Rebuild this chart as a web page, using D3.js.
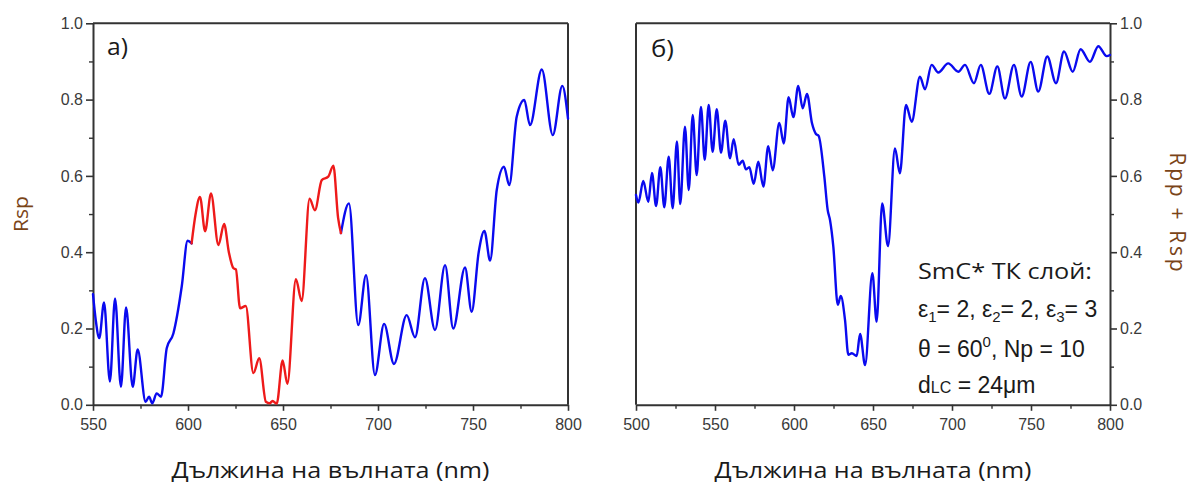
<!DOCTYPE html>
<html>
<head>
<meta charset="utf-8">
<script src="https://cdn.jsdelivr.net/npm/d3@7/dist/d3.min.js"></script>
<style>
  html, body { margin: 0; padding: 0; background: #fff; }
  svg { display: block; }
</style>
</head>
<body>
<svg id="chart" width="1192" height="487"></svg>
<script>
// ---- Panel a): Rsp spectrum, 550–800 nm (blue / red / blue segments) ----
const aBlue1Wl = [550, 551.5, 553.3, 555.8, 558.9, 561.6, 564.7, 567.4, 570.9, 573.5, 577.7, 579.5, 581.2, 583.5, 585.8, 588.8, 592.3, 596.7, 599.8, 601.9];
const aBlue1R  = [0.29, 0.22, 0.175, 0.268, 0.061, 0.279, 0.047, 0.255, 0.047, 0.145, 0.008, 0.021, 0.004, 0.030, 0.021, 0.148, 0.187, 0.31, 0.43, 0.423];

const aRedWl = [601.9, 604, 606.3, 609, 612.1, 616, 619, 621.5, 623.9, 625.2, 627.4, 630.4, 634.4, 637.5, 641, 643, 644.5, 646.7, 649.8, 652.3, 656.8, 659.8, 664, 666.8, 670.4, 673.8, 676.5, 679, 680.5];
const aRedR  = [0.423, 0.50, 0.545, 0.455, 0.554, 0.419, 0.474, 0.40, 0.358, 0.355, 0.253, 0.259, 0.083, 0.122, 0.008, 0.004, 0.010, 0.003, 0.116, 0.055, 0.329, 0.272, 0.54, 0.51, 0.589, 0.598, 0.627, 0.49, 0.45];

const aBlue2Wl = [680.5, 684.7, 689.6, 693.7, 698.4, 703.2, 708.4, 715.1, 719.5, 724.7, 730, 735.3, 739.6, 745.8, 749.3, 753, 756, 759, 762.5, 766.3, 769.1, 773, 777, 780, 786.2, 792, 797, 800];
const aBlue2R  = [0.45, 0.528, 0.209, 0.340, 0.078, 0.212, 0.107, 0.235, 0.177, 0.332, 0.196, 0.366, 0.200, 0.360, 0.244, 0.40, 0.456, 0.378, 0.563, 0.624, 0.576, 0.755, 0.799, 0.733, 0.879, 0.707, 0.836, 0.75];

// ---- Panel б): Rpp + Rsp spectrum, 500–800 nm ----
const bWl = [500, 501.5, 504.6, 507.8, 510.1, 512.7, 515.4, 517.9, 520.7, 523.2, 525.9, 528, 531, 533.4, 535.9, 538.4, 541.1, 543.5, 546, 548.5, 551.1, 553.8, 556.5, 559.5, 561.8, 565, 567.5, 569.6, 571.7, 574.5, 577.4, 580.6, 583.7, 586.5, 590.7, 593.5, 596.6, 599.6, 602.7, 605.5, 608.2, 611.4, 613.9, 615.6, 619.2, 621.3, 622.8, 624.9, 627.7, 629.6, 632.3, 634.4, 636.6, 639.7, 641.8, 645, 649.6, 652.3, 655.8, 659.5, 663.9, 667, 670.9, 674.5, 679.7, 682.9, 687.1, 691.3, 697.6, 704, 708.2, 713.9, 718.2, 723.6, 728.7, 733.5, 739.2, 744.1, 749.8, 754.6, 760.3, 765.8, 770.9, 776.4, 781.4, 787.3, 792.6, 797.9, 800];
const bR  = [0.55, 0.53, 0.587, 0.532, 0.608, 0.521, 0.623, 0.518, 0.650, 0.515, 0.690, 0.526, 0.729, 0.563, 0.760, 0.602, 0.781, 0.642, 0.786, 0.663, 0.775, 0.661, 0.745, 0.646, 0.696, 0.629, 0.640, 0.617, 0.623, 0.579, 0.637, 0.572, 0.678, 0.615, 0.739, 0.685, 0.806, 0.754, 0.836, 0.777, 0.815, 0.738, 0.71, 0.705, 0.598, 0.511, 0.484, 0.414, 0.262, 0.285, 0.222, 0.131, 0.135, 0.128, 0.186, 0.104, 0.345, 0.218, 0.528, 0.416, 0.672, 0.607, 0.786, 0.742, 0.860, 0.827, 0.891, 0.871, 0.895, 0.873, 0.891, 0.843, 0.891, 0.815, 0.887, 0.803, 0.891, 0.808, 0.899, 0.821, 0.913, 0.843, 0.926, 0.873, 0.932, 0.899, 0.940, 0.914, 0.917];

// ---- Tick values and labels ----
const yMajor = [0, 0.2, 0.4, 0.6, 0.8, 1.0];
const yMinor = [0.1, 0.3, 0.5, 0.7, 0.9];
const aXMajor = [550, 600, 650, 700, 750, 800];
const aXMinor = [575, 625, 675, 725, 775];
const bXMajor = [500, 550, 600, 650, 700, 750, 800];
const bXMinor = [525, 575, 625, 675, 725, 775];

const xTitle = "Дължина на вълната (nm)";
const aYTitle = "Rsp";
const bYTitle = "Rpp + Rsp";
const aTag = "a)";
const bTag = "б)";

// ---- Layout ----
const svg = d3.select("#chart");
const plotTop = 23.3, plotBottom = 404.8;
const y = d3.scaleLinear().domain([0, 1]).range([plotBottom, plotTop]);
const xa = d3.scaleLinear().domain([550, 800]).range([93, 568]);
const xb = d3.scaleLinear().domain([500, 800]).range([636, 1110]);

const axisColor = "#333";
const tickFont = "'Liberation Sans', Arial, sans-serif";
const textFont = "'Open Sans', 'Noto Sans', sans-serif";
const blue = "#0a0aef";
const red = "#ee1a1a";
const labelColor = "#7a4418";

function styleAxis(g) {
  g.selectAll(".domain").attr("stroke", axisColor).attr("stroke-width", 2);
  g.selectAll(".tick line").attr("stroke", axisColor).attr("stroke-width", 1.6);
  g.selectAll(".tick text").attr("fill", "#3a3a3a").attr("font-family", tickFont).attr("font-size", 16);
}
function minorAxis(g) {
  g.select(".domain").remove();
  g.selectAll(".tick line").attr("stroke", axisColor).attr("stroke-width", 1.4);
  g.selectAll(".tick text").remove();
}

function drawPanel(x, xMajor, xMinor, yOrient) {
  // frame
  const [x0, x1] = x.range();
  const frame = svg.append("g");
  frame.append("line").attr("x1", x0).attr("x2", x1).attr("y1", plotTop).attr("y2", plotTop);
  if (yOrient === "left") frame.append("line").attr("x1", x1).attr("x2", x1).attr("y1", plotTop).attr("y2", plotBottom);
  else frame.append("line").attr("x1", x0).attr("x2", x0).attr("y1", plotTop).attr("y2", plotBottom);
  frame.selectAll("line").attr("stroke", axisColor).attr("stroke-width", 2);

  // x axis
  svg.append("g").attr("transform", `translate(0,${plotBottom})`)
    .call(d3.axisBottom(x).tickValues(xMajor).tickFormat(d3.format("d")).tickSize(6).tickSizeOuter(0).tickPadding(8))
    .call(styleAxis);
  svg.append("g").attr("transform", `translate(0,${plotBottom})`)
    .call(d3.axisBottom(x).tickValues(xMinor).tickSize(4).tickFormat(""))
    .call(minorAxis);

  // y axis
  const ax = yOrient === "left" ? d3.axisLeft(y) : d3.axisRight(y);
  const pos = yOrient === "left" ? x0 : x1;
  svg.append("g").attr("transform", `translate(${pos},0)`)
    .call(ax.tickValues(yMajor).tickFormat(d3.format(".1f")).tickSize(7).tickSizeOuter(0).tickPadding(3))
    .call(styleAxis);
  const axm = yOrient === "left" ? d3.axisLeft(y) : d3.axisRight(y);
  svg.append("g").attr("transform", `translate(${pos},0)`)
    .call(axm.tickValues(yMinor).tickSize(4).tickFormat(""))
    .call(minorAxis);
}

drawPanel(xa, aXMajor, aXMinor, "left");
drawPanel(xb, bXMajor, bXMinor, "right");

// curves
function drawCurve(x, wl, r, color) {
  const pts = wl.map((w, i) => [w, r[i]]);
  const line = d3.line().x(d => x(d[0])).y(d => y(d[1])).curve(d3.curveMonotoneX);
  svg.append("path").datum(pts).attr("d", line)
    .attr("fill", "none").attr("stroke", color).attr("stroke-width", 2.4)
    .attr("stroke-linejoin", "round").attr("stroke-linecap", "round");
}
drawCurve(xa, aBlue1Wl, aBlue1R, blue);
drawCurve(xa, aBlue2Wl, aBlue2R, blue);
drawCurve(xa, aRedWl, aRedR, red);
drawCurve(xb, bWl, bR, blue);

// titles
function title(txt, tx, ty, size, len, color, rot, adjust) {
  const t = svg.append("text").text(txt)
    .attr("font-family", textFont).attr("font-size", size).attr("fill", color)
    .attr("text-anchor", "middle")
    .attr("transform", `translate(${tx},${ty}) rotate(${rot})`);
  if (len) t.attr("textLength", len).attr("lengthAdjust", adjust || "spacingAndGlyphs");
  return t;
}
title(xTitle, (xa.range()[0] + xa.range()[1]) / 2, 478, 22, 318, "#1a1a1a", 0);
title(xTitle, (xb.range()[0] + xb.range()[1]) / 2, 478, 22, 317, "#1a1a1a", 0);
title(aYTitle, 28, 214, 20, 36, labelColor, -90);
title(bYTitle, 1170, 212, 21, 119, labelColor, 90, "spacing");

svg.append("text").text(aTag).attr("x", 107).attr("y", 55)
  .attr("font-family", textFont).attr("font-size", 23).attr("fill", "#1a1a1a")
  .attr("textLength", 21).attr("lengthAdjust", "spacingAndGlyphs");
svg.append("text").text(bTag).attr("x", 651).attr("y", 57)
  .attr("font-family", textFont).attr("font-size", 23).attr("fill", "#1a1a1a")
  .attr("textLength", 23).attr("lengthAdjust", "spacingAndGlyphs");

// parameter note
const noteX = 918;
svg.append("text").text("SmC* ТК слой:").attr("x", noteX).attr("y", 279)
  .attr("font-family", textFont).attr("font-size", 22).attr("fill", "#1a1a1a")
  .attr("textLength", 174).attr("lengthAdjust", "spacingAndGlyphs");

const noteStyle = t => t.attr("font-family", tickFont).attr("font-size", 23).attr("fill", "#1a1a1a").attr("x", noteX);

// permittivities with subscripts: [text, baseline shift]
const epsParts = [["ε", 0], ["1", 5], ["= 2, ε", -5], ["2", 5], ["= 2, ε", -5], ["3", 5], ["= 3", -5]];
const eps = svg.append("text").attr("y", 317).call(noteStyle);
epsParts.forEach(([s, dy], i) => {
  const ts = eps.append("tspan").text(s).attr("dy", dy);
  if (i % 2 === 1) ts.attr("font-size", 15);
});

const theta = svg.append("text").attr("y", 357).call(noteStyle);
theta.append("tspan").text("θ = 60");
theta.append("tspan").text("0").attr("font-size", 15).attr("dy", -10);
theta.append("tspan").text(", Np = 10").attr("dy", 10);

const dlc = svg.append("text").attr("y", 393).call(noteStyle);
dlc.append("tspan").text("d");
dlc.append("tspan").text("LC").attr("font-size", 16);
dlc.append("tspan").text(" = 24μm");
</script>
</body>
</html>
